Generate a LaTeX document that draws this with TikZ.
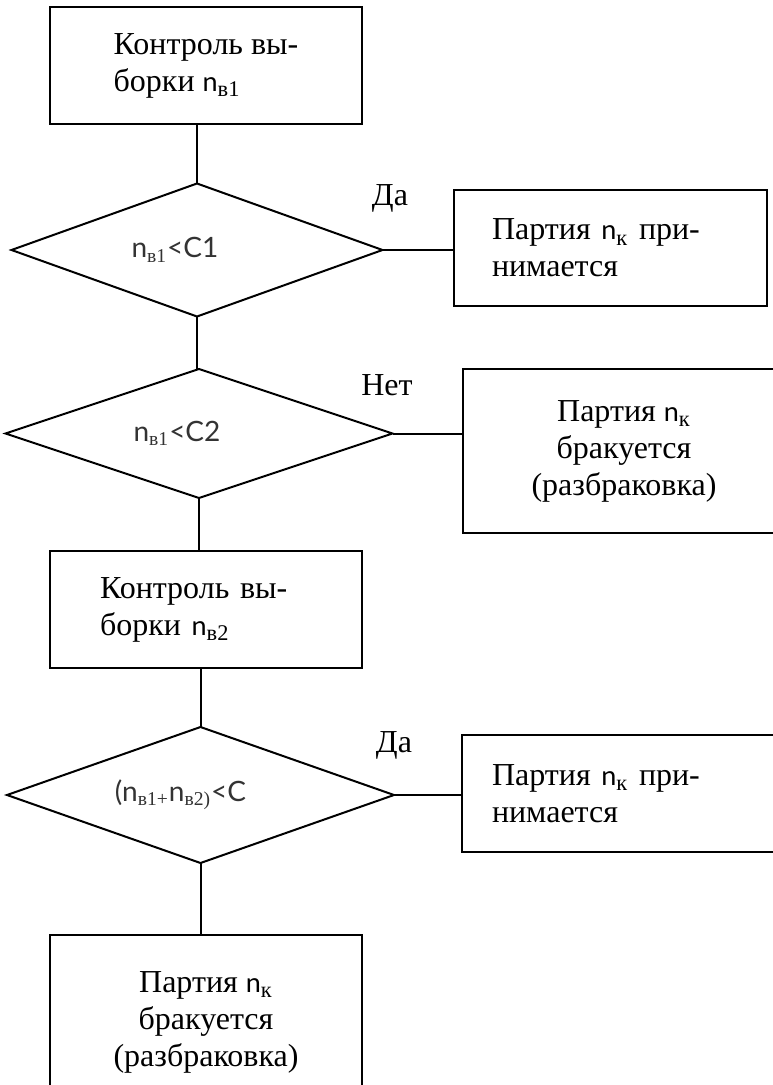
\documentclass[tikz,border=0pt]{standalone}
\usepackage{fontspec}
\setmainfont{Liberation Serif}
\newfontfamily\nfont{Lato}
\usetikzlibrary{shapes.geometric}
\newcommand{\nsub}[1]{{\nfont\fontsize{13.5}{15}\selectfont n}\textsubscript{#1}}
\tikzset{
  box/.style={draw,line width=1pt,inner ysep=0pt,outer sep=0pt,font=\fontsize{16}{18.5}\selectfont},
  rhomb/.style={draw,diamond,aspect=2.9,line width=1pt,inner sep=0pt,outer sep=0pt,text=black!80,font=\nfont\fontsize{14}{16}\selectfont},
  wire/.style={line width=1pt},
  tag/.style={font=\fontsize{16}{18.5}\selectfont}
}
\begin{document}
\begin{tikzpicture}[x=0.5pt,y=-0.5pt]
\useasboundingbox (0,0) rectangle (772,1085);
% boxes
\node[box,minimum width=156pt,minimum height=58.5pt,align=left] (kontr1) at (206,65.5) {Контроль вы-\\борки \nsub{в1}};
\node[box,minimum height=58pt,align=left,text width=118.5pt,inner xsep=19pt] (prin1) at (610.5,248) {Партия \nsub{к} при-\\нимается};
\node[box,minimum width=161pt,minimum height=82pt,align=center] (brak1) at (624,451) {Партия \nsub{к}\\бракуется\\(разбраковка)};
\node[box,minimum height=58.5pt,align=left,text width=106pt,inner xsep=25pt] (kontr2) at (206,609.5) {Контроль вы-\\борки \nsub{в2}};
\node[box,minimum height=58.5pt,align=left,text width=126.5pt,inner xsep=15pt] (prin2) at (618.5,793.5) {Партия \nsub{к} при-\\нимается};
\node[box,minimum width=156pt,minimum height=87.5pt,align=center] (brak2) at (206,1022.5) {Партия \nsub{к}\\бракуется\\(разбраковка)};
% decisions
\node[rhomb,minimum width=185.5pt,minimum height=66.5pt] (usl1) at (197,250) {n\textsubscript{\rmfamily в1}<C1\rule{22pt}{0pt}};
\node[rhomb,minimum width=193.5pt,minimum height=64.5pt] (usl2) at (199,433.5) {n\textsubscript{\rmfamily в1}<C2\rule{22pt}{0pt}};
\node[rhomb,minimum width=193.5pt,minimum height=68pt] (usl3) at (200.5,795) {(n\textsubscript{\rmfamily в1+}n\textsubscript{\rmfamily в2)}<C\rule{20pt}{0pt}};
% labels
\node[tag] (da1) at (390,198) {Да};
\node[tag] (net) at (387,385) {Нет};
\node[tag] (da2) at (394,745) {Да};
% connectors
\draw[wire] (kontr1.south -| usl1.north) -- (usl1.north);
\draw[wire] (usl1.east) -- (usl1.east -| prin1.west);
\draw[wire] (usl1.south) -- (usl1.south |- usl2.north);
\draw[wire] (usl2.east) -- (usl2.east -| brak1.west);
\draw[wire] (usl2.south) -- (usl2.south |- kontr2.north);
\draw[wire] (kontr2.south -| usl3.north) -- (usl3.north);
\draw[wire] (usl3.east) -- (usl3.east -| prin2.west);
\draw[wire] (usl3.south) -- (usl3.south |- brak2.north);
\end{tikzpicture}
\end{document}
